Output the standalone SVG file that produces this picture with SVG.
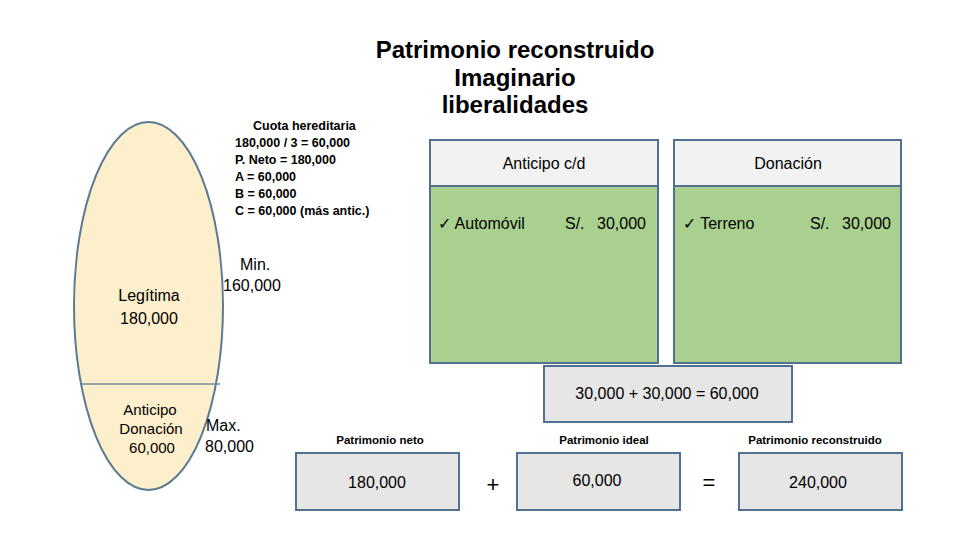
<svg xmlns="http://www.w3.org/2000/svg" width="960" height="540" viewBox="0 0 960 540">
<style>
text{font-family:"Liberation Sans",Arial,sans-serif;fill:#000}
.t{font-size:24px;font-weight:bold;text-anchor:middle}
.c{font-size:12.5px;font-weight:bold}
.m{font-size:16px}
.mc{font-size:16px;text-anchor:middle}
.sc{font-size:15px;text-anchor:middle}
.lb{font-size:11.5px;font-weight:bold;text-anchor:middle}
.e{text-anchor:end}
.box{stroke:#52708f;stroke-width:2}
.hd{fill:#f2f2f2}
.gr{fill:#a9d08e}
.gy{fill:#e6e6e6}
</style>
<rect width="960" height="540" fill="#fff"/>
<g id="title">
<text class="t" x="515" y="58">Patrimonio reconstruido</text>
<text class="t" x="515" y="86">Imaginario</text>
<text class="t" x="515" y="113">liberalidades</text>
</g>
<g id="ellipse">
<ellipse cx="148.5" cy="306" rx="74.5" ry="184" fill="#fdefcb" stroke="#5a7a95" stroke-width="2"/>
<line x1="82" y1="384" x2="220" y2="384" stroke="#6f8aa6" stroke-width="1.5"/>
<text class="mc" x="149" y="301">Legítima</text>
<text class="mc" x="149" y="324">180,000</text>
<text class="sc" x="150" y="415">Anticipo</text>
<text class="sc" x="151" y="434">Donación</text>
<text class="sc" x="152" y="453">60,000</text>
</g>
<g id="cuota">
<text class="c" x="253" y="130">Cuota hereditaria</text>
<text class="c" x="235" y="147">180,000 / 3 = 60,000</text>
<text class="c" x="235" y="164">P. Neto = 180,000</text>
<text class="c" x="235" y="181">A = 60,000</text>
<text class="c" x="235" y="198">B = 60,000</text>
<text class="c" x="235" y="215">C = 60,000 (más antic.)</text>
</g>
<g id="min">
<text class="m" x="240" y="270">Min.</text>
<text class="m" x="223" y="291">160,000</text>
</g>
<g id="max">
<text class="m" x="206" y="431">Max.</text>
<text class="m" x="205" y="452">80,000</text>
</g>
<g id="anticipo">
<rect class="box hd" x="430" y="140" width="228" height="46"/>
<rect class="box gr" x="430" y="186" width="228" height="177"/>
<text class="mc" x="544" y="169">Anticipo c/d</text>
<text class="m" x="438" y="229">✓ Automóvil</text>
<text class="m" x="565" y="229">S/.</text>
<text class="m e" x="646" y="229">30,000</text>
</g>
<g id="donacion">
<rect class="box hd" x="674" y="140" width="227" height="46"/>
<rect class="box gr" x="674" y="186" width="227" height="177"/>
<text class="mc" x="788" y="169">Donación</text>
<text class="m" x="683" y="229">✓ Terreno</text>
<text class="m" x="810" y="229">S/.</text>
<text class="m e" x="891" y="229">30,000</text>
</g>
<g id="suma">
<rect class="box gy" x="544" y="366" width="248" height="56"/>
<text class="mc" x="667" y="399">30,000 + 30,000 = 60,000</text>
</g>
<g id="neto">
<text class="lb" x="380" y="444">Patrimonio neto</text>
<rect class="box gy" x="296" y="453" width="163" height="57"/>
<text class="mc" x="377" y="488">180,000</text>
</g>
<g id="ops">
<text x="493" y="492" font-size="22" text-anchor="middle">+</text>
<text x="709" y="490" font-size="22" text-anchor="middle">=</text>
</g>
<g id="ideal">
<text class="lb" x="604" y="444">Patrimonio ideal</text>
<rect class="box gy" x="517" y="453" width="163" height="57"/>
<text class="mc" x="597" y="486">60,000</text>
</g>
<g id="reconstruido">
<text class="lb" x="815" y="444">Patrimonio reconstruido</text>
<rect class="box gy" x="739" y="453" width="163" height="57"/>
<text class="mc" x="818" y="488">240,000</text>
</g>
<g id="connectors"></g>
</svg>
